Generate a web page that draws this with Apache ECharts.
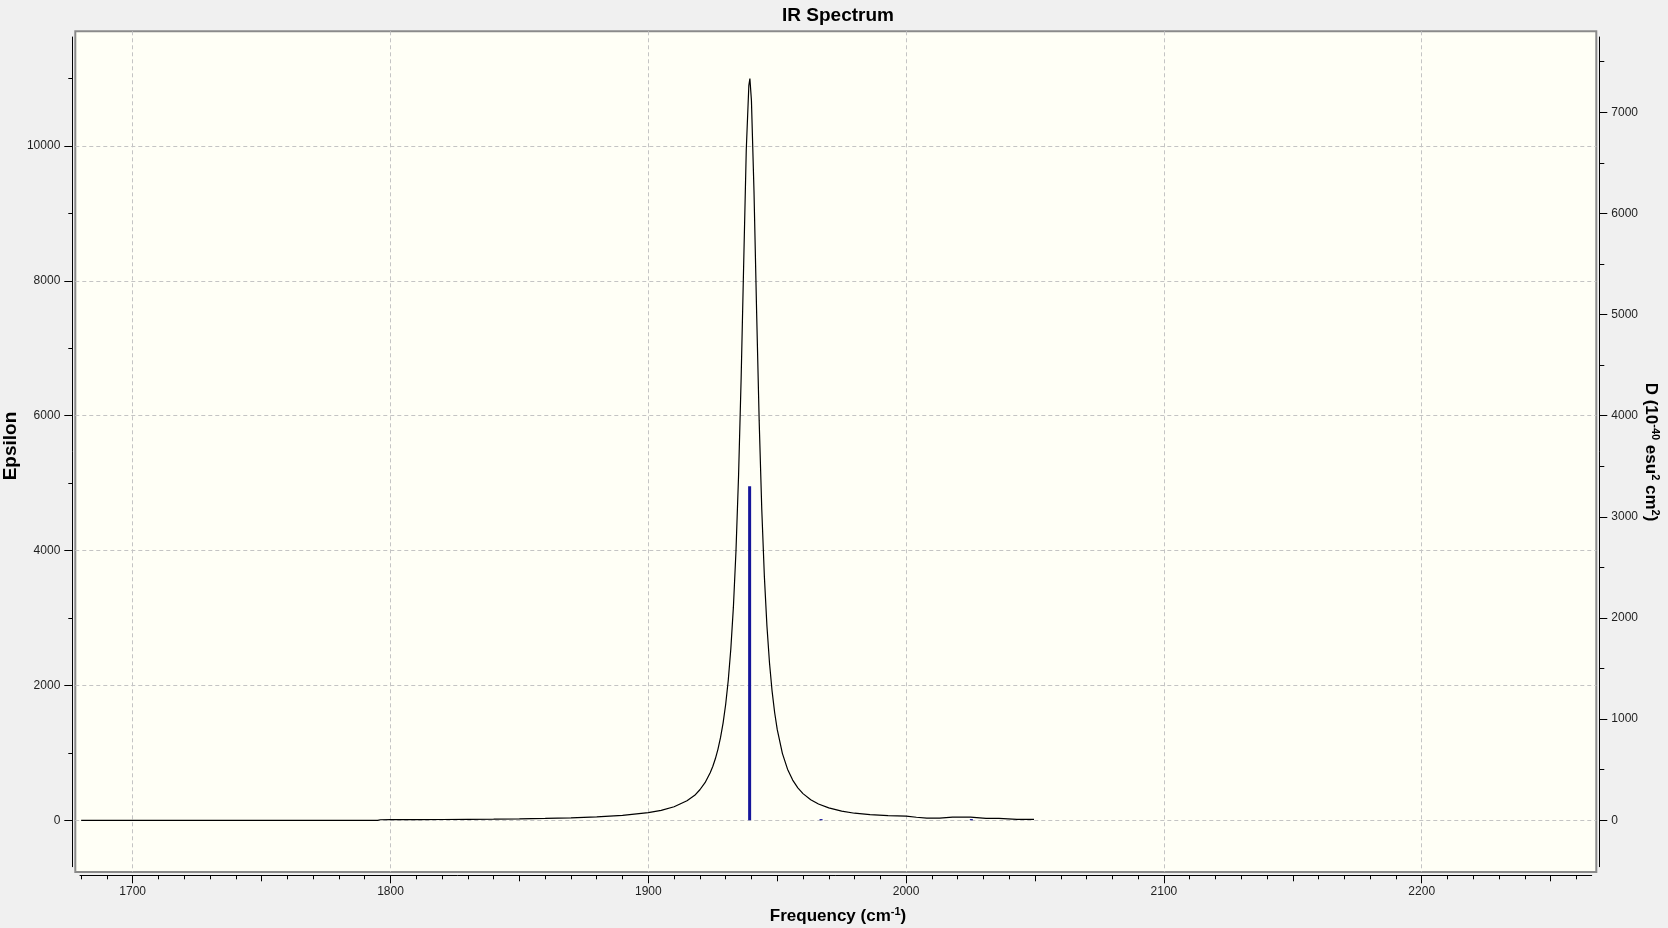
<!DOCTYPE html>
<html><head><meta charset="utf-8">
<script src="https://cdn.jsdelivr.net/npm/echarts@6/dist/echarts.min.js"></script>
<style>html,body{margin:0;padding:0;background:#f0f0f0}#c{width:1668px;height:928px}</style>
</head><body><div id="c"></div>
<script>
// ---- data ----
const freq = [1680, 1700, 1750, 1795, 1796, 1800, 1810, 1820, 1830, 1840, 1850, 1860, 1870, 1880, 1890, 1900, 1905, 1910, 1915, 1918, 1920, 1922, 1924, 1925, 1926, 1927, 1928, 1929, 1930, 1931, 1932, 1933, 1934, 1935, 1936, 1937, 1938, 1939, 1939.4, 1940, 1941, 1942, 1943, 1944, 1945, 1946, 1947, 1948, 1949, 1950, 1952, 1954, 1956, 1958, 1960, 1963, 1966, 1970, 1975, 1980, 1986, 1993, 2000, 2004, 2008, 2013, 2018, 2025, 2031, 2036, 2043, 2049.6];
const epsilon = [0, 0, 0, 0, 8, 9, 10, 12, 15, 18, 22, 28, 37, 50, 72, 113, 148, 201, 290, 370, 453, 558, 705, 798, 912, 1052, 1225, 1442, 1717, 2073, 2540, 3161, 3991, 5102, 6545, 8266, 9948, 10900, 11000, 10673, 9316, 7555, 5927, 4620, 3629, 2890, 2337, 1920, 1599, 1348, 993, 758, 597, 481, 396, 305, 241, 184, 136, 105, 85, 70, 62, 45, 32, 33, 48, 47, 30, 28, 15, 13];
const stickFreq = [1939.3, 1967.0, 2025.3];
const stickD = [3303, 12, 12];
const xTicks = [1700, 1800, 1900, 2000, 2100, 2200];
const xMidTicks = [1750, 1850, 1950, 2050, 2150, 2250];
const xMinorTicks = [1680, 1690, 1710, 1720, 1730, 1740, 1760, 1770, 1780, 1790, 1810, 1820, 1830, 1840, 1860, 1870, 1880, 1890, 1910, 1920, 1930, 1940, 1960, 1970, 1980, 1990, 2010, 2020, 2030, 2040, 2060, 2070, 2080, 2090, 2110, 2120, 2130, 2140, 2160, 2170, 2180, 2190, 2210, 2220, 2230, 2240, 2260];
const yLeftTicks = [0, 2000, 4000, 6000, 8000, 10000];
const yLeftMinor = [1000, 3000, 5000, 7000, 9000, 11000];
const yRightTicks = [0, 1000, 2000, 3000, 4000, 5000, 6000, 7000];
const yRightMinor = [500, 1500, 2500, 3500, 4500, 5500, 6500, 7500];

const F = '"Liberation Sans", Arial, sans-serif';
const chart = echarts.init(document.getElementById('c'), null, {renderer: 'canvas'});
const lblStyle = {fontFamily: F, fontSize: 12, color: '#1e1e1e', formatter: v => String(v)};
const blk = {color: '#000', width: 1};

function tickAxis(extra) {
  return Object.assign({
    type: 'value', axisLine: {show: false, onZero: false}, splitLine: {show: false},
    axisLabel: {show: false}
  }, extra);
}

const option = {
  backgroundColor: '#f0f0f0',
  animation: false,
  title: {text: 'IR Spectrum', left: 833, textAlign: 'center', top: 1,
    textStyle: {fontFamily: F, fontSize: 19, fontWeight: 'bold', color: '#000'}},
  grid: [
    {left: 75.3, right: 71.7, top: 31.3, bottom: 56, show: true, backgroundColor: '#fffff6', borderColor: '#8a8a8a', borderWidth: 2},
    {left: 72.3, right: 68.7, top: 37, bottom: 61.3},
    {left: 80, right: 76.3, top: 37, bottom: 52.7}
  ],
  xAxis: [
    {gridIndex: 0, type: 'value', min: 1677.73, max: 2267.72,
      axisLine: {show: false, onZero: false},
      axisTick: {show: false, customValues: xTicks},
      axisLabel: {show: false, customValues: xTicks},
      splitLine: {show: true, lineStyle: {color: '#c4c4c4', type: [4, 3], width: 1}}},
    {gridIndex: 1, type: 'value', min: 0, max: 1, show: false},
    {gridIndex: 2, type: 'value', min: 1679.56, max: 2265.94, position: 'bottom',
      axisLine: {show: true, onZero: false, lineStyle: blk},
      axisTick: {show: true, length: 8, customValues: xTicks, lineStyle: blk},
      axisLabel: Object.assign({customValues: xTicks, margin: 10}, lblStyle),
      splitLine: {show: false}},
    tickAxis({gridIndex: 2, min: 1679.56, max: 2265.94, position: 'bottom',
      axisTick: {show: true, length: 4, customValues: xMinorTicks, lineStyle: blk}}),
    tickAxis({gridIndex: 2, min: 1679.56, max: 2265.94, position: 'bottom',
      axisTick: {show: true, length: 6, customValues: xMidTicks, lineStyle: blk}})
  ],
  yAxis: [
    {gridIndex: 0, type: 'value', min: -766.7, max: 11701, position: 'left',
      axisLine: {show: false, onZero: false},
      axisTick: {show: false, customValues: yLeftTicks},
      axisLabel: {show: false, customValues: yLeftTicks},
      splitLine: {show: true, lineStyle: {color: '#c4c4c4', type: [4, 3], width: 1}}},
    {gridIndex: 0, type: 'value', min: -511.1, max: 7800.7, position: 'right', show: false},
    {gridIndex: 1, type: 'value', min: -688.1, max: 11616, position: 'left',
      axisLine: {show: true, onZero: false, lineStyle: blk},
      axisTick: {show: true, length: 8, customValues: yLeftTicks, lineStyle: blk},
      axisLabel: Object.assign({customValues: yLeftTicks, margin: 12}, lblStyle),
      splitLine: {show: false}},
    tickAxis({gridIndex: 1, min: -688.1, max: 11616, position: 'left',
      axisTick: {show: true, length: 4, customValues: yLeftMinor, lineStyle: blk}}),
    {gridIndex: 1, type: 'value', min: -458.8, max: 7744.7, position: 'right',
      axisLine: {show: true, onZero: false, lineStyle: blk},
      axisTick: {show: true, length: 8, customValues: yRightTicks, lineStyle: blk},
      axisLabel: Object.assign({customValues: yRightTicks, margin: 12}, lblStyle),
      splitLine: {show: false}},
    tickAxis({gridIndex: 1, min: -458.8, max: 7744.7, position: 'right',
      axisTick: {show: true, length: 5, customValues: yRightMinor, lineStyle: blk}}),
    {gridIndex: 2, type: 'value', min: 0, max: 1, show: false}
  ],
  series: [
    {type: 'line', xAxisIndex: 0, yAxisIndex: 0, data: freq.map((f, i) => [f, epsilon[i]]),
      showSymbol: false, symbol: 'none', lineStyle: {color: '#000', width: 1.2}, z: 3},
    {type: 'bar', xAxisIndex: 0, yAxisIndex: 1, data: stickFreq.map((f, i) => [f, stickD[i]]),
      barWidth: 3, itemStyle: {color: '#15159a'}, z: 4}
  ],
  graphic: [
    {type: 'text', x: 838, y: 916, style: {
      text: '{a|Frequency (cm}{s|-1}{a|)}', align: 'center', verticalAlign: 'middle',
      rich: {a: {fontFamily: F, fontSize: 17, fontWeight: 'bold', lineHeight: 20, fill: '#000'},
             s: {fontFamily: F, fontSize: 11, fontWeight: 'bold', lineHeight: 11, verticalAlign: 'top', fill: '#000'}}}},
    {type: 'text', x: 11, y: 446, rotation: Math.PI / 2, style: {
      text: 'Epsilon', align: 'center', verticalAlign: 'middle',
      font: 'bold 19px "Liberation Sans", Arial, sans-serif', fill: '#000'}},
    {type: 'text', x: 1651, y: 452, rotation: -Math.PI / 2, style: {
      text: '{a|D (10}{s|-40}{a| esu}{s|2}{a| cm}{s|2}{a|)}', align: 'center', verticalAlign: 'middle',
      rich: {a: {fontFamily: F, fontSize: 17, fontWeight: 'bold', lineHeight: 20, fill: '#000'},
             s: {fontFamily: F, fontSize: 11, fontWeight: 'bold', lineHeight: 11, verticalAlign: 'top', fill: '#000'}}}}
  ]
};
chart.setOption(option);
</script></body></html>
